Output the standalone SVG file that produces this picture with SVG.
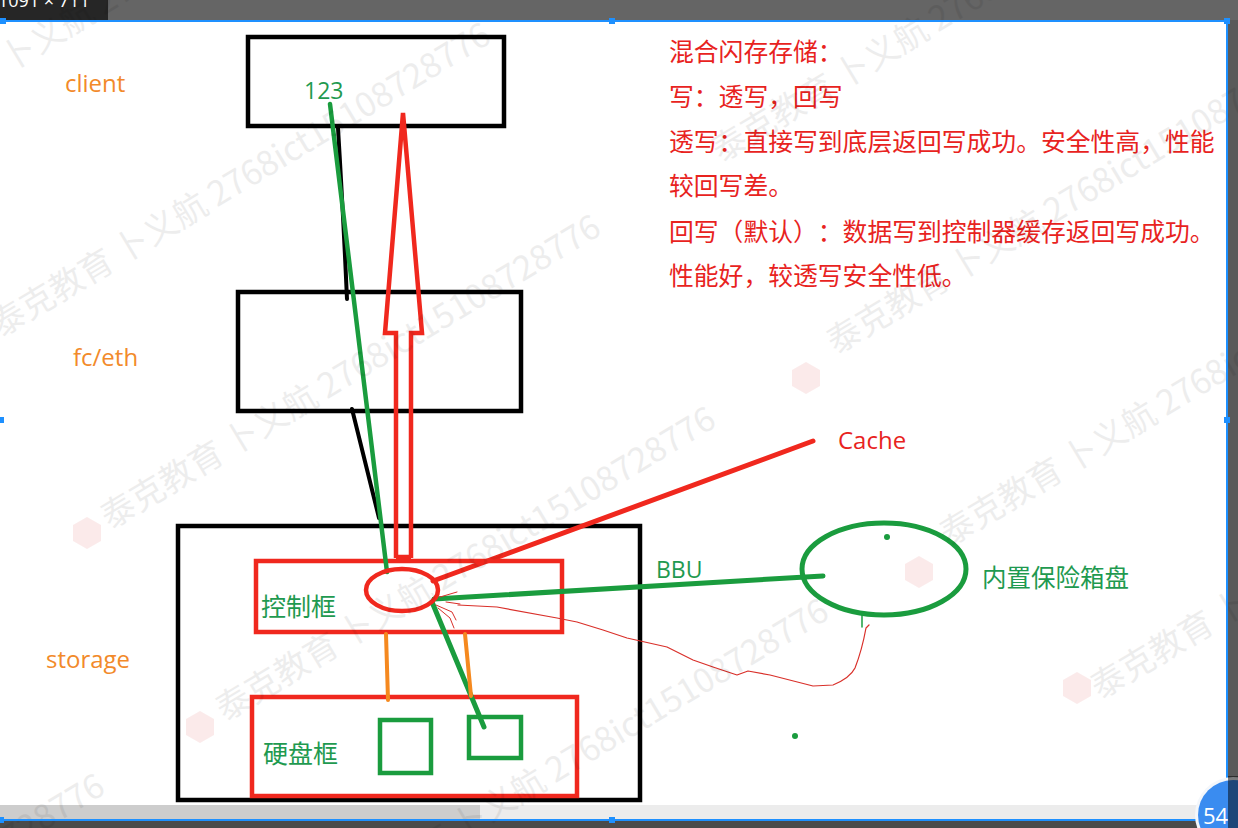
<svg xmlns="http://www.w3.org/2000/svg" width="1238" height="828" viewBox="0 0 1238 828">
<defs>
<style>
.lat{font-family:"Open Sans","Noto Sans","Noto Sans CJK SC",sans-serif}
.cjk{font-family:"Noto Sans CJK SC","Noto Sans",sans-serif;text-spacing-trim:space-all;font-feature-settings:"chws" 0,"halt" 0}
.org{fill:#f28a2a;font-size:24px}
.grn{fill:#1f9a50}
.red{fill:#e8231e}
.blk{fill:none;stroke:#000;stroke-width:4.5}
.rbox{fill:none;stroke:#f0281e;stroke-width:4.5}
.gbox{fill:none;stroke:#1a9c3e;stroke-width:4.5}
.wm{font-family:"Noto Sans CJK SC","Open Sans",sans-serif;font-size:34px;fill:#000;opacity:0.065}
.logo{fill:#f3b8b8;opacity:0.3}
.blue{fill:#1e90ff}
</style>
</defs>
<rect x="0" y="0" width="1238" height="828" fill="#ffffff"/>
<!-- window chrome -->
<rect x="0" y="0" width="1238" height="20" fill="#656565"/>
<rect x="0" y="0" width="108" height="20" fill="#262626"/>
<text x="-2" y="7" class="lat" font-size="18" fill="#ffffff">1091 × 711</text>
<rect x="1228" y="20" width="10" height="808" fill="#5a5a5a"/>
<rect x="0" y="805" width="480" height="15" fill="#cdcdcd"/>
<rect x="480" y="805" width="747" height="15" fill="#ececec"/>
<rect x="0" y="821" width="1238" height="7" fill="#4b4b4b"/>

<!-- nodes -->
<g id="client">
<rect x="248" y="37" width="256" height="89" class="blk"/>
<text x="65" y="92" class="lat org">client</text>
<text x="304" y="99" class="lat grn" font-size="23">123</text>
</g>
<g id="fceth">
<rect x="238" y="292" width="283" height="119" class="blk"/>
<text x="73" y="366" class="lat org">fc/eth</text>
</g>
<g id="storage">
<rect x="178" y="526" width="462" height="274" class="blk"/>
<text x="46" y="668" class="lat org">storage</text>
</g>
<g id="controller">
<rect x="256" y="561" width="306" height="71" class="rbox"/>
<text x="261" y="616" class="cjk grn" font-size="25">控制框</text>
</g>
<g id="diskframe">
<rect x="252" y="697" width="325" height="99" class="rbox"/>
<text x="263" y="763" class="cjk grn" font-size="25">硬盘框</text>
</g>
<g id="disk1"><rect x="380" y="720" width="51" height="53" class="gbox"/></g>
<g id="disk2"><rect x="469" y="717" width="52" height="41" class="gbox"/></g>

<!-- connectors -->
<g id="connectors" fill="none" stroke-linecap="round">
<path d="M338,128 Q343,210 347,299" stroke="#000" stroke-width="4"/>
<path d="M352,409 L379,518" stroke="#000" stroke-width="4"/>
<path d="M330,104 L387,572" stroke="#1a9c3e" stroke-width="4.5"/>
<path d="M396,558 L396,333 L385,333 L403,113 L422,333 L411,333 L411,558 M396,557 L411,557" stroke="#f0281e" stroke-width="4.5" stroke-linejoin="miter" stroke-linecap="butt"/>
<path d="M433,581 L813,441" stroke="#f0281e" stroke-width="5"/>
<path d="M434,599 L823,576" stroke="#1a9c3e" stroke-width="5"/>
<path d="M432,602 L484,727" stroke="#1a9c3e" stroke-width="5"/>
<path d="M386,634 L388,700" stroke="#f5891f" stroke-width="4"/>
<path d="M465,634 L471,696" stroke="#f5891f" stroke-width="4"/>
<path d="M458,605 L497,607 L557,618 L577,622 L603,630 L627,638 L667,647 L693,660 L713,667 L737,675 L748,671 L770,675 L813,686 L833,685 Q850,678 855,668 Q862,650 866,628 L869,625" stroke="#d9302a" stroke-width="1.2" stroke-linejoin="round"/>
<path d="M440,597 L457,592 M436,605 L452,612 L456,620 M438,608 L450,618 L454,628 M446,602 L460,604" stroke="#d9302a" stroke-width="1"/>
<path d="M862,615 L862,627" stroke="#1a9c3e" stroke-width="1.5"/>
</g>

<g id="cache-ellipse">
<ellipse cx="402" cy="590" rx="36" ry="21" fill="none" stroke="#f0281e" stroke-width="4.5"/>
</g>
<g id="safebox">
<ellipse cx="884" cy="569" rx="82" ry="46" fill="none" stroke="#1a9c3e" stroke-width="5"/>
<circle cx="887" cy="537" r="3" fill="#1a9c3e"/>
<text x="982" y="587" class="cjk grn" font-size="24.5">内置保险箱盘</text>
</g>
<circle cx="795" cy="736" r="3" fill="#1a9c3e"/>
<g id="labels">
<text x="838" y="449" class="lat red" font-size="24">Cache</text>
<text x="656" y="578" class="lat grn" font-size="23">BBU</text>
</g>
<g id="notes" class="cjk red" font-size="24.8">
<text x="669" y="61">混合闪存存储：</text>
<text x="669" y="106">写：透写，回写</text>
<text x="669" y="151">透写：直接写到底层返回写成功。安全性高，性能</text>
<text x="669" y="195">较回写差。</text>
<text x="669" y="241">回写（默认）：数据写到控制器缓存返回写成功。</text>
<text x="669" y="285">性能好，较透写安全性低。</text>
</g>

<!-- watermarks -->
<g id="watermark">
<polygon class="logo" points="87,517 101,525 101,541 87,549 73,541 73,525"/>
<polygon class="logo" points="200,711 214,719 214,735 200,743 186,735 186,719"/>
<polygon class="logo" points="806,362 820,370 820,386 806,394 792,386 792,370"/>
<polygon class="logo" points="919,556 933,564 933,580 919,588 905,580 905,564"/>
<polygon class="logo" points="1077,672 1091,680 1091,696 1077,704 1063,696 1063,680"/>
<text class="wm" transform="translate(0,338) rotate(-31)">泰克教育 卜义航 2768ict15108728776</text>
<text class="wm" transform="translate(-113,146) rotate(-31)">泰克教育 卜义航 2768ict15108728776</text>
<text class="wm" transform="translate(110,530) rotate(-31)">泰克教育 卜义航 2768ict15108728776</text>
<text class="wm" transform="translate(225,722) rotate(-31)">泰克教育 卜义航 2768ict15108728776</text>
<text class="wm" transform="translate(338,914) rotate(-31)">泰克教育 卜义航 2768ict15108728776</text>
<text class="wm" transform="translate(-386,1089) rotate(-31)">泰克教育 卜义航 2768ict15108728776</text>
<text class="wm" transform="translate(-501,897) rotate(-31)">泰克教育 卜义航 2768ict15108728776</text>
<text class="wm" transform="translate(721,163) rotate(-31)">泰克教育 卜义航 2768ict15108728776</text>
<text class="wm" transform="translate(836,355) rotate(-31)">泰克教育 卜义航 2768ict15108728776</text>
<text class="wm" transform="translate(949,547) rotate(-31)">泰克教育 卜义航 2768ict15108728776</text>
<text class="wm" transform="translate(1100,700) rotate(-31)">泰克教育 卜义航 2768ict15108728776</text>
</g>

<!-- frame handles -->
<g id="frame">
<rect x="0" y="20" width="1228" height="2" class="blue"/>
<rect x="1226" y="20" width="2" height="801" class="blue"/>
<rect x="0" y="819" width="1228" height="2" class="blue"/>
<rect x="0" y="18" width="6" height="6" class="blue"/>
<rect x="609" y="18" width="6" height="6" class="blue"/>
<rect x="1224" y="18" width="6" height="6" class="blue"/>
<rect x="0" y="417" width="4" height="6" class="blue"/>
<rect x="1224" y="417" width="6" height="6" class="blue"/>
<rect x="0" y="817" width="4" height="6" class="blue"/>
<rect x="609" y="817" width="6" height="6" class="blue"/>
</g>
<g id="page-badge">
<circle cx="1233" cy="815" r="38" fill="#f4f7fb"/>
<circle cx="1233" cy="815" r="35" fill="#3a8cf0"/>
<text x="1203" y="824" class="lat" font-size="22" fill="#ffffff">54</text>
<rect x="1228" y="776" width="10" height="52" fill="#000" opacity="0.5"/>
</g>
</svg>
